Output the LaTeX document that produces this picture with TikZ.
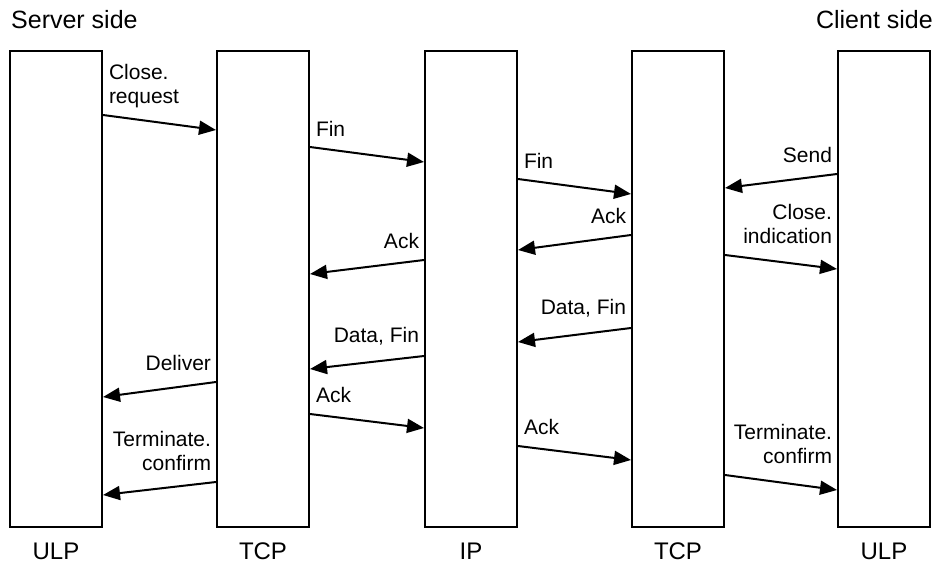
\documentclass[tikz,border=0pt]{standalone}
\usepackage{fontspec}
\setmainfont{Liberation Sans}
\usetikzlibrary{arrows.meta,positioning}

\tikzset{
  layer/.style={draw, line width=2pt, minimum width=92pt, minimum height=476pt, inner sep=0pt},
  msg/.style={line width=2pt, -{Triangle[length=17pt,width=14pt]}},
  lbl/.style={font=\fontsize{21}{24.5}\selectfont, inner sep=0pt},
  lblr/.style={lbl, anchor=south west, align=left, xshift=5pt, yshift=10pt},
  lbll/.style={lbl, anchor=south east, align=right, xshift=-4pt, yshift=10pt},
  side/.style={font=\fontsize{24}{28}\selectfont, inner sep=0pt}
}

\begin{document}
\begin{tikzpicture}[x=1pt, y=-1pt]
        \useasboundingbox (0,0) rectangle (937,567);

        % Protocol layers
        \node[layer] (ulpS) at (56,289) {};
        \node[layer] (tcpS) at (263,289) {};
        \node[layer] (ipN) at (471,289) {};
        \node[layer] (tcpC) at (678,289) {};
        \node[layer] (ulpC) at (884,289) {};

        % Layer names
        \node[side, below=15pt of ulpS] (ulpSname) {ULP};
        \node[side, below=15pt of tcpS] (tcpSname) {TCP};
        \node[side, below=15pt of ipN] (ipNname) {IP};
        \node[side, below=15pt of tcpC] (tcpCname) {TCP};
        \node[side, below=15pt of ulpC] (ulpCname) {ULP};

        % Sides
        \node[side, font=\fontsize{25}{28}\selectfont, anchor=base west] (server) at (11,29) {Server side};
        \node[side, font=\fontsize{25}{28}\selectfont, anchor=base east] (client) at (933,29) {Client side};

        % Server closes
        \draw[msg] ([yshift=-65pt]ulpS.north east) -- ([yshift=-80pt]tcpS.north west)
            node[lblr, pos=0, yshift=-4pt] {Close.\\request};
        \draw[msg] ([yshift=-97pt]tcpS.north east) -- ([yshift=-112pt]ipN.north west)
            node[lblr, pos=0] {Fin};
        \draw[msg] ([yshift=-129pt]ipN.north east) -- ([yshift=-144pt]tcpC.north west)
            node[lblr, pos=0] {Fin};
        \draw[msg] ([yshift=-185pt]tcpC.north west) -- ([yshift=-200pt]ipN.north east)
            node[lbll, pos=0] {Ack};
        \draw[msg] ([yshift=-210pt]ipN.north west) -- ([yshift=-224pt]tcpS.north east)
            node[lbll, pos=0] {Ack};

        % Client side
        \draw[msg] ([yshift=-124pt]ulpC.north west) -- ([yshift=-138pt]tcpC.north east)
            node[lbll, pos=0] {Send};
        \draw[msg] ([yshift=-205pt]tcpC.north east) -- ([yshift=-219pt]ulpC.north west)
            node[lbll, pos=0, xshift=112pt] {Close.\\indication};

        % Client closes
        \draw[msg] ([yshift=-278pt]tcpC.north west) -- ([yshift=-292pt]ipN.north east)
            node[lbll, pos=0] {Data, Fin};
        \draw[msg] ([yshift=-306pt]ipN.north west) -- ([yshift=-319pt]tcpS.north east)
            node[lbll, pos=0] {Data, Fin};
        \draw[msg] ([yshift=-332pt]tcpS.north west) -- ([yshift=-347pt]ulpS.north east)
            node[lbll, pos=0] {Deliver};
        \draw[msg] ([yshift=-364pt]tcpS.north east) -- ([yshift=-378pt]ipN.north west)
            node[lblr, pos=0] {Ack};
        \draw[msg] ([yshift=-396pt]ipN.north east) -- ([yshift=-410pt]tcpC.north west)
            node[lblr, pos=0] {Ack};

        % Confirmations
        \draw[msg] ([yshift=-432pt]tcpS.north west) -- ([yshift=-445pt]ulpS.north east)
            node[lbll, pos=0] {Terminate.\\confirm};
        \draw[msg] ([yshift=-425pt]tcpC.north east) -- ([yshift=-440pt]ulpC.north west)
            node[lbll, pos=0, xshift=112pt] {Terminate.\\confirm};
    \end{tikzpicture}
\end{document}
